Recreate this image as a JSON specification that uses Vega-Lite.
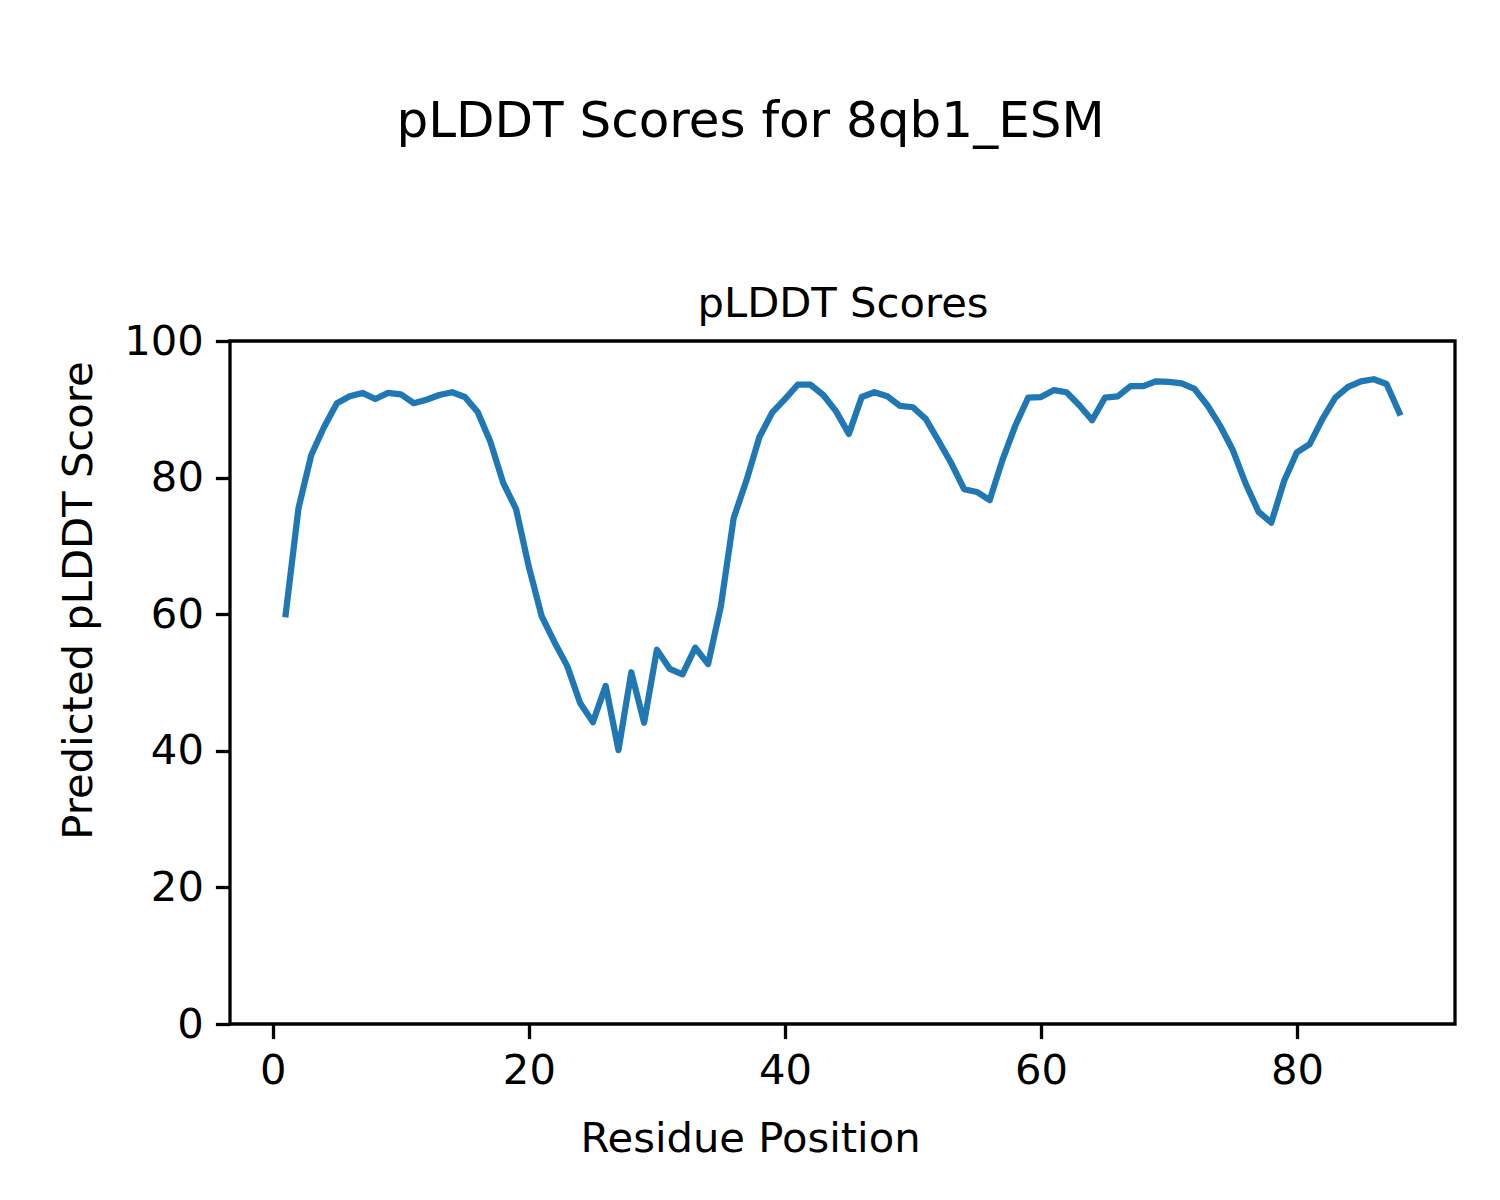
{
  "$schema": "https://vega.github.io/schema/vega-lite/v6.json",
  "width": 1225,
  "height": 683,
  "autosize": {"type": "none"},
  "padding": {"left": 230, "top": 341, "right": 45, "bottom": 176},
  "background": "white",
  "config": {
    "font": "DejaVu Sans",
    "view": {"stroke": "black", "strokeWidth": 3.3},
    "axis": {
      "grid": false,
      "domain": false,
      "tickColor": "black",
      "tickWidth": 3.3,
      "tickSize": 14.6,
      "labelPadding": 12,
      "labelFontSize": 41.7,
      "labelColor": "black",
      "labelFont": "DejaVu Sans",
      "titleFont": "DejaVu Sans",
      "titleFontWeight": "normal",
      "titleColor": "black"
    }
  },
  "data": {
    "values": [
      {"residue": 1, "plddt": 60.0}, {"residue": 2, "plddt": 75.5}, {"residue": 3, "plddt": 83.3},
      {"residue": 4, "plddt": 87.4}, {"residue": 5, "plddt": 90.9}, {"residue": 6, "plddt": 91.9},
      {"residue": 7, "plddt": 92.4}, {"residue": 8, "plddt": 91.5}, {"residue": 9, "plddt": 92.4},
      {"residue": 10, "plddt": 92.2}, {"residue": 11, "plddt": 90.9}, {"residue": 12, "plddt": 91.4},
      {"residue": 13, "plddt": 92.1}, {"residue": 14, "plddt": 92.5}, {"residue": 15, "plddt": 91.8},
      {"residue": 16, "plddt": 89.6}, {"residue": 17, "plddt": 85.2}, {"residue": 18, "plddt": 79.2},
      {"residue": 19, "plddt": 75.4}, {"residue": 20, "plddt": 66.9}, {"residue": 21, "plddt": 59.7},
      {"residue": 22, "plddt": 55.9}, {"residue": 23, "plddt": 52.4}, {"residue": 24, "plddt": 47.0},
      {"residue": 25, "plddt": 44.2}, {"residue": 26, "plddt": 49.5}, {"residue": 27, "plddt": 40.1},
      {"residue": 28, "plddt": 51.5}, {"residue": 29, "plddt": 44.1}, {"residue": 30, "plddt": 54.8},
      {"residue": 31, "plddt": 52.0}, {"residue": 32, "plddt": 51.2}, {"residue": 33, "plddt": 55.1},
      {"residue": 34, "plddt": 52.7}, {"residue": 35, "plddt": 61.2}, {"residue": 36, "plddt": 74.1},
      {"residue": 37, "plddt": 79.6}, {"residue": 38, "plddt": 85.9}, {"residue": 39, "plddt": 89.5},
      {"residue": 40, "plddt": 91.5}, {"residue": 41, "plddt": 93.6}, {"residue": 42, "plddt": 93.6},
      {"residue": 43, "plddt": 92.1}, {"residue": 44, "plddt": 89.7}, {"residue": 45, "plddt": 86.4},
      {"residue": 46, "plddt": 91.8}, {"residue": 47, "plddt": 92.5}, {"residue": 48, "plddt": 91.9},
      {"residue": 49, "plddt": 90.5}, {"residue": 50, "plddt": 90.3}, {"residue": 51, "plddt": 88.6},
      {"residue": 52, "plddt": 85.4}, {"residue": 53, "plddt": 82.1}, {"residue": 54, "plddt": 78.3},
      {"residue": 55, "plddt": 77.9}, {"residue": 56, "plddt": 76.7}, {"residue": 57, "plddt": 82.6},
      {"residue": 58, "plddt": 87.6}, {"residue": 59, "plddt": 91.7}, {"residue": 60, "plddt": 91.8},
      {"residue": 61, "plddt": 92.8}, {"residue": 62, "plddt": 92.5}, {"residue": 63, "plddt": 90.6},
      {"residue": 64, "plddt": 88.4}, {"residue": 65, "plddt": 91.7}, {"residue": 66, "plddt": 91.9},
      {"residue": 67, "plddt": 93.4}, {"residue": 68, "plddt": 93.4}, {"residue": 69, "plddt": 94.1},
      {"residue": 70, "plddt": 94.0}, {"residue": 71, "plddt": 93.8}, {"residue": 72, "plddt": 93.0},
      {"residue": 73, "plddt": 90.6}, {"residue": 74, "plddt": 87.6}, {"residue": 75, "plddt": 84.0},
      {"residue": 76, "plddt": 79.1}, {"residue": 77, "plddt": 75.0}, {"residue": 78, "plddt": 73.4},
      {"residue": 79, "plddt": 79.5}, {"residue": 80, "plddt": 83.7}, {"residue": 81, "plddt": 84.9},
      {"residue": 82, "plddt": 88.6}, {"residue": 83, "plddt": 91.7}, {"residue": 84, "plddt": 93.3},
      {"residue": 85, "plddt": 94.1}, {"residue": 86, "plddt": 94.4}, {"residue": 87, "plddt": 93.7},
      {"residue": 88, "plddt": 89.5}
    ]
  },
  "layer": [
    {
      "mark": {"type": "line", "color": "#1f77b4", "strokeWidth": 6.25, "strokeCap": "square", "strokeJoin": "round", "clip": true},
      "encoding": {
        "x": {
          "field": "residue", "type": "quantitative",
          "scale": {"domain": [-3.35, 92.35], "nice": false, "zero": false},
          "axis": {
            "orient": "bottom", "values": [0, 20, 40, 60, 80],
            "title": "Residue Position", "titleFontSize": 41.7,
            "titleX": 520, "titleY": 114, "titleBaseline": "middle", "titleAlign": "center"
          }
        },
        "y": {
          "field": "plddt", "type": "quantitative",
          "scale": {"domain": [0, 100], "nice": false},
          "axis": {
            "orient": "left", "values": [0, 20, 40, 60, 80, 100],
            "title": "Predicted pLDDT Score", "titleFontSize": 41.7,
            "titleX": -152, "titleY": 259, "titleAngle": -90, "titleBaseline": "middle", "titleAlign": "center"
          }
        }
      }
    },
    {
      "mark": {"type": "line", "strokeOpacity": 0, "opacity": 0},
      "encoding": {
        "x": {
          "field": "residue", "type": "quantitative",
          "scale": {"domain": [-3.35, 92.35], "nice": false, "zero": false},
          "axis": {
            "orient": "top", "labels": false, "ticks": false, "domain": false,
            "title": "pLDDT Scores", "titleFontSize": 41.7,
            "titleX": 612.5, "titleY": -25, "titleBaseline": "alphabetic", "titleAlign": "center"
          }
        },
        "y": {
          "field": "plddt", "type": "quantitative",
          "scale": {"domain": [0, 100], "nice": false},
          "axis": {
            "orient": "right", "labels": false, "ticks": false, "domain": false,
            "title": "pLDDT Scores for 8qb1_ESM", "titleFontSize": 50,
            "titleX": -705, "titleY": -205, "titleAngle": 0, "titleBaseline": "alphabetic", "titleAlign": "center"
          }
        }
      }
    }
  ],
  "resolve": {"scale": {"x": "independent", "y": "independent"}, "axis": {"x": "independent", "y": "independent"}}
}
